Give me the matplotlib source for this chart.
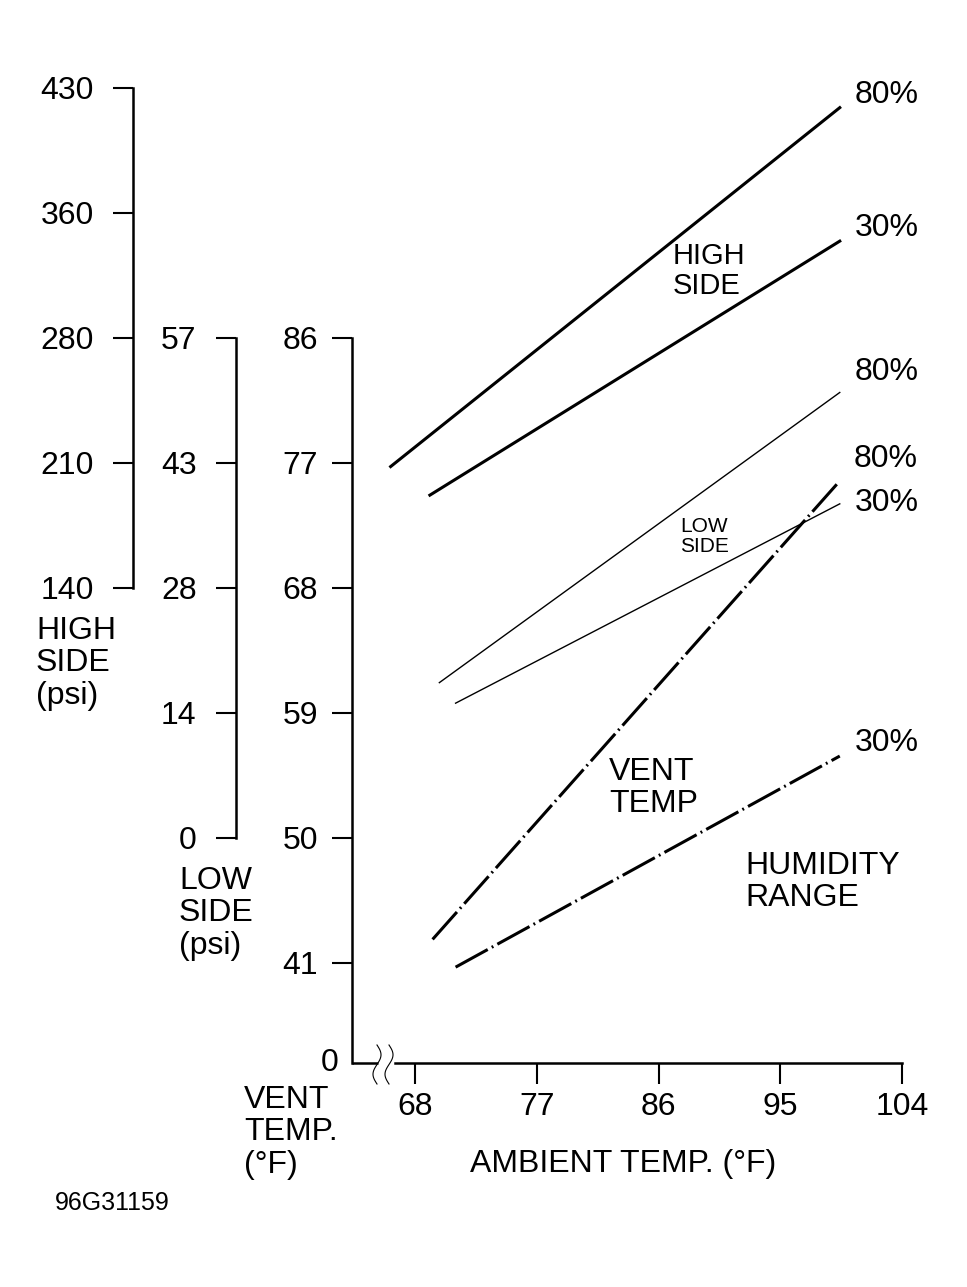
import numpy as np
import matplotlib
matplotlib.use('Agg')
from matplotlib import pyplot as plt
from matplotlib.lines import Line2D

plt.rcParams['font.family'] = ['Liberation Sans', 'DejaVu Sans']

W, H = 967, 1287

# scales: ticks are evenly spaced, each scale sits on the vent temp grid
vent_ticks = [41, 50, 59, 68, 77, 86]
amb_ticks = [68, 77, 86, 95, 104]
hi_ticks = [140, 210, 280, 360, 430]
hi_pos = [68, 77, 86, 95, 104]
lo_ticks = [0, 14, 28, 43, 57]
lo_pos = [50, 59, 68, 77, 86]
vent_zero = 33.8

# high side pressure (psi) vs ambient temp (F)
hs80_amb = [66.2, 99.4]
hs80_psi = [208, 419]
hs30_amb = [69.1, 99.4]
hs30_psi = [192, 342]
# low side pressure (psi)
ls80_amb = [69.8, 99.4]
ls80_psi = [17.4, 50.9]
ls30_amb = [71.0, 99.4]
ls30_psi = [15.1, 38.1]
# vent temp (F)
vt80_amb = [69.3, 99.3]
vt80_f = [42.7, 75.6]
vt30_amb = [71.0, 99.4]
vt30_f = [40.7, 55.9]

FS = 23


def hi_to_pos(p):
    return np.interp(p, hi_ticks, hi_pos)


def lo_to_pos(p):
    return np.interp(p, lo_ticks, lo_pos)


def fx(x):
    return x / W


def fy(y):
    return 1 - y / H


fig = plt.figure(figsize=(W / 100, H / 100), dpi=100)

bottom_px, top_px = 1063, 60
y_lim = (vent_zero, 86 + (338 - top_px) * 9 / 125)
ax_rect_b = fy(bottom_px)
ax_rect_h = (bottom_px - top_px) / H
x_lim = (68 - (415 - 352) * 9 / 121.75, 104)

ax = fig.add_axes([fx(352), ax_rect_b, fx(902) - fx(352), ax_rect_h])
ax.set_xlim(*x_lim)
ax.set_ylim(*y_lim)
ax.patch.set_visible(False)
for s in ['top', 'right']:
    ax.spines[s].set_visible(False)
ax.spines['left'].set_linewidth(1.8)
ax.spines['bottom'].set_linewidth(1.8)
ax.spines['left'].set_bounds(vent_zero, 86)
break_right = 68 - 20 * 9 / 121.75
break_left = 68 - 37 * 9 / 121.75
ax.spines['bottom'].set_bounds(break_right, 104)
ax.plot([x_lim[0], break_left], [vent_zero, vent_zero], color='black', lw=1.8,
        solid_capstyle='butt', clip_on=False)

ax.set_yticks(vent_ticks)
ax.set_yticklabels([str(v) for v in vent_ticks])
ax.set_xticks(amb_ticks)
ax.set_xticklabels([str(v) for v in amb_ticks])
ax.tick_params(axis='y', length=14.4, width=1.5, pad=10, labelsize=FS)
ax.tick_params(axis='x', length=15, width=1.5, pad=6, labelsize=FS)
ax.annotate('0', xy=(0, vent_zero), xycoords=('axes fraction', 'data'),
            xytext=(-14, 0), textcoords='offset pixels', ha='right', va='center',
            fontsize=FS)

# break marks on the ambient axis
t = np.linspace(0, 2 * np.pi, 60)
for cx in [377, 389]:
    xs = cx + 4 * np.sin(t)
    ys = np.linspace(1045, 1084, 60)
    fig.add_artist(Line2D(fx(xs), fy(ys), color='black', lw=0.8))

# side scales
for left_px, pos, labels in [(133, hi_pos, hi_ticks), (236, lo_pos, lo_ticks)]:
    sa = fig.add_axes([fx(left_px), ax_rect_b, 0.001, ax_rect_h])
    sa.set_ylim(*y_lim)
    sa.patch.set_visible(False)
    for s in ['top', 'right', 'bottom']:
        sa.spines[s].set_visible(False)
    sa.spines['left'].set_linewidth(1.8)
    sa.spines['left'].set_bounds(pos[0], pos[-1])
    sa.set_xticks([])
    sa.set_yticks(pos)
    sa.set_yticklabels([str(v) for v in labels])
    sa.tick_params(axis='y', length=14.4, width=1.5, pad=14, labelsize=FS)

# lines
dash = (12, 1.5, 0.6, 1.5)
ax.plot(hs80_amb, hi_to_pos(hs80_psi), color='black', lw=2.2, clip_on=False)
ax.plot(hs30_amb, hi_to_pos(hs30_psi), color='black', lw=2.2, clip_on=False)
ax.plot(ls80_amb, lo_to_pos(ls80_psi), color='black', lw=1.0, clip_on=False)
ax.plot(ls30_amb, lo_to_pos(ls30_psi), color='black', lw=1.0, clip_on=False)
ax.plot(vt80_amb, vt80_f, color='black', lw=2.2, dashes=dash)
ax.plot(vt30_amb, vt30_f, color='black', lw=2.2, dashes=dash)

# humidity labels at the line ends
ends = [
    ('80%', hs80_amb[-1], hi_to_pos(hs80_psi[-1]), 13),
    ('30%', hs30_amb[-1], hi_to_pos(hs30_psi[-1]), 13),
    ('80%', ls80_amb[-1], lo_to_pos(ls80_psi[-1]), 20),
    ('80%', vt80_amb[-1], vt80_f[-1], 23),
    ('30%', ls30_amb[-1], lo_to_pos(ls30_psi[-1]), 1),
    ('30%', vt30_amb[-1], vt30_f[-1], 13),
]
for label, x, y, dy in ends:
    ax.annotate(label, xy=(x, y), xytext=(15, dy), textcoords='offset pixels',
                ha='left', va='center', fontsize=FS, annotation_clip=False)

# captions
txt = dict(ha='left', va='top', linespacing=1.1, color='black')
fig.text(fx(36), fy(616), 'HIGH\nSIDE\n(psi)', fontsize=FS, **txt)
fig.text(fx(179), fy(866), 'LOW\nSIDE\n(psi)', fontsize=FS, **txt)
fig.text(fx(244), fy(1085), 'VENT\nTEMP.\n(\u00b0F)', fontsize=FS, **txt)
fig.text(fx(470), fy(1149), 'AMBIENT TEMP. (\u00b0F)', fontsize=FS, **txt)
fig.text(fx(55), fy(1191), '96G31159', fontsize=18, **txt)
fig.text(fx(673), fy(242), 'HIGH\nSIDE', fontsize=21, **txt)
fig.text(fx(680), fy(517), 'LOW\nSIDE', fontsize=15, **txt)
fig.text(fx(609), fy(757), 'VENT\nTEMP', fontsize=FS, **txt)
fig.text(fx(745), fy(851), 'HUMIDITY\nRANGE', fontsize=FS, **txt)

fig.savefig('out.png', dpi=100, facecolor='white')
